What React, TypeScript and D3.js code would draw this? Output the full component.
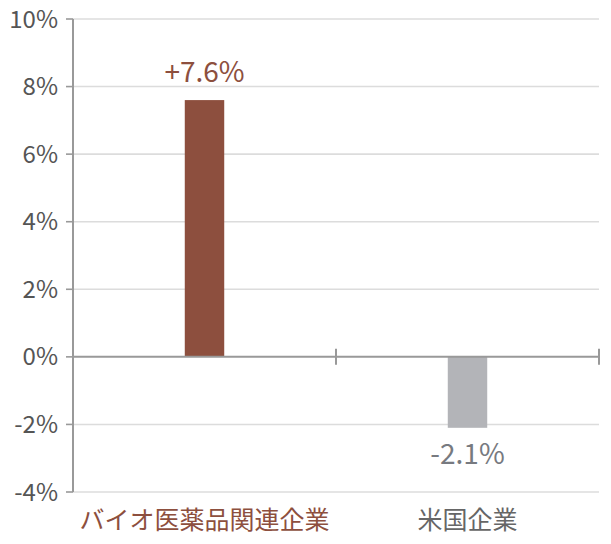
import React from "react";
import * as d3 from "d3";

const categories = ["バイオ医薬品関連企業", "米国企業"];
const values = [7.6, -2.1];
const valueLabels = ["+7.6%", "-2.1%"];
const yTicks = [-4, -2, 0, 2, 4, 6, 8, 10];
const barColors = ["#8d4f3e", "#b3b4b8"];
const labelColors = ["#8d4f3e", "#777a80"];
const catColors = ["#8d4f3e", "#666666"];

const W = 611;
const H = 544;
const margin = { left: 73, right: 12, top: 19, bottom: 52 };
const FONT = "'Noto Sans CJK JP', 'Noto Sans', sans-serif";

export default function App() {
  const x = d3
    .scaleBand<string>()
    .domain(categories)
    .range([margin.left, W - margin.right])
    .paddingInner(0)
    .paddingOuter(0);
  const y = d3.scaleLinear().domain([-4, 10]).range([H - margin.bottom, margin.top]);
  const barW = x.bandwidth() * 0.15;
  const x0 = margin.left;
  const x1 = W - margin.right;

  return (
    <svg
      width={W}
      height={H}
      style={{ position: "absolute", left: 0, top: 0, fontFamily: FONT }}
    >
      {yTicks
        .filter((t) => t !== 0)
        .map((t) => (
          <line key={"g" + t} x1={x0} x2={x1} y1={y(t)} y2={y(t)} stroke="#dcdcdc" strokeWidth={1.6} />
        ))}
      {yTicks.map((t) => (
        <g key={"t" + t}>
          <line x1={x0 - 7} x2={x0} y1={y(t)} y2={y(t)} stroke="#999" strokeWidth={1.6} />
          <text
            x={x0 - 15}
            y={y(t)}
            dy="0.36em"
            textAnchor="end"
            fontSize={24}
            fill="#555"
          >
            {t}%
          </text>
        </g>
      ))}
      {categories.map((c, i) => {
        const v = values[i];
        const cx = (x(c) as number) + x.bandwidth() / 2;
        const yTop = y(Math.max(0, v));
        const yBot = y(Math.min(0, v));
        return (
          <g key={c}>
            <rect x={cx - barW / 2} y={yTop} width={barW} height={yBot - yTop} fill={barColors[i]} />
            <text
              x={cx}
              y={v >= 0 ? yTop - 18 : yBot + 36}
              textAnchor="middle"
              fontSize={28}
              fill={labelColors[i]}
            >
              {valueLabels[i]}
            </text>
            <text x={cx} y={H - 15} textAnchor="middle" fontSize={25} fill={catColors[i]}>
              {c}
            </text>
          </g>
        );
      })}
      <line x1={x0} x2={x1} y1={y(0)} y2={y(0)} stroke="#999" strokeWidth={2} />
      {[...categories.map((c) => (x(c) as number) + x.bandwidth())].map((px, i) => (
        <line key={"xt" + i} x1={px} x2={px} y1={y(0) - 8} y2={y(0) + 8} stroke="#999" strokeWidth={2} />
      ))}
      <line x1={x0} x2={x0} y1={margin.top} y2={H - margin.bottom} stroke="#999" strokeWidth={2} />
    </svg>
  );
}
